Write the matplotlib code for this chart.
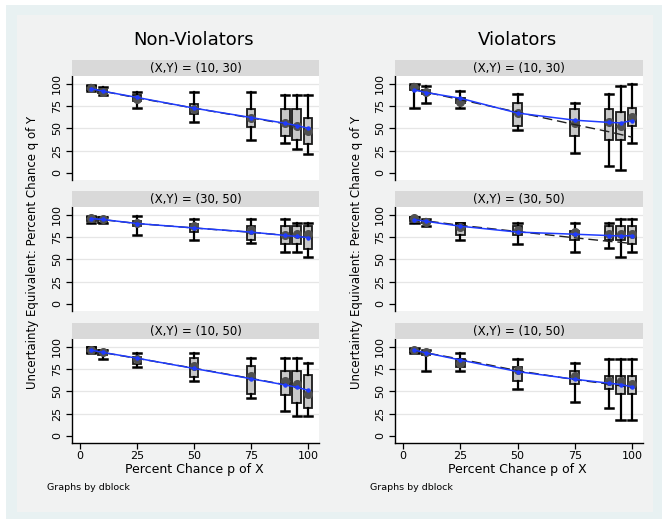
import matplotlib
matplotlib.use("Agg")
import matplotlib.pyplot as plt
from matplotlib.patches import Rectangle

# probability levels (percent chance p of X)
p_levels = [5, 10, 25, 50, 75, 90, 95, 100]

columns = ["Non-Violators", "Violators"]
conditions = ["(X,Y) = (10, 30)", "(X,Y) = (30, 50)", "(X,Y) = (10, 50)"]

# box summaries: lower whisker, q1, q3, upper whisker, mean marker
# plus the blue fitted curve and the dashed reference line
nv_10_30 = dict(
    lo=[92, 87.5, 72.5, 56.6, 37, 33, 27, 21.5],
    q1=[93, 89.5, 81, 66, 51.7, 41, 37, 32.5],
    q3=[97, 93, 87.5, 77.4, 71.7, 71.7, 71.7, 62],
    hi=[98, 96, 91, 91, 91, 87.5, 87.5, 87.5],
    mean=[95.5, 91, 83, 71.7, 62, 56, 52, 47],
    fit=[94.3, 91.5, 84.5, 72.5, 62, 55.5, 53, 50],
    ref=[94, 91.5, 84, 72.5, 61.5, 55, 52.5, 50],
)
v_10_30 = dict(
    lo=[73, 78, 73, 48, 22, 8, 3, 33],
    q1=[93, 88, 78, 52.5, 41.5, 37, 37, 52],
    q3=[97, 93, 84, 78, 72, 72, 68, 73],
    hi=[100, 97, 92, 88, 78, 88, 97, 100],
    mean=[96, 90.5, 79, 67, 56, 57, 52.5, 63],
    fit=[93, 90, 83.6, 67, 59, 56.5, 56, 58.5],
    ref=[93, 90.5, 82, 68, 54, 46, 43, 40],
)
nv_30_50 = dict(
    lo=[91, 91, 77, 72, 68, 58, 58, 52],
    q1=[93, 91, 87, 81, 71, 67, 67, 62],
    q3=[97, 97, 92.5, 89.5, 87, 87, 87, 87],
    hi=[98, 97, 98, 95.5, 95.5, 95.5, 91, 91],
    mean=[96, 95, 90.5, 87, 83, 77, 78, 78],
    fit=[95.5, 94.5, 90, 85, 80.4, 76.6, 75.5, 74.3],
    ref=[95.5, 94.3, 90, 85, 80.2, 76.8, 75.5, 74.5],
)
v_30_50 = dict(
    lo=[91, 87, 72, 67, 58, 63, 52, 58],
    q1=[93, 90.5, 77, 77, 72, 72, 72, 67],
    q3=[97, 93, 90.5, 87, 82, 87, 87, 87],
    hi=[97, 95.5, 91, 91, 91, 91, 95.5, 95.5],
    mean=[96, 92, 85.7, 83, 80, 78, 78, 78],
    fit=[94.3, 92.5, 87, 80.4, 78, 76.5, 76, 76.5],
    ref=[94.5, 93, 88, 81, 74, 70, 69, 67.5],
)
nv_10_50 = dict(
    lo=[93, 86, 76.6, 62, 42, 27.5, 22.6, 22.6],
    q1=[93, 91, 81, 66, 47, 46, 37, 31],
    q3=[99, 96, 88.7, 86.8, 78, 73, 73, 68],
    hi=[100, 96, 93, 93, 86.8, 86.8, 86.8, 82],
    mean=[96, 93.6, 86, 78, 67, 62, 58.5, 47],
    fit=[96, 93.5, 87, 75.5, 64, 57, 54.5, 51],
    ref=[96, 93.3, 86.8, 75.8, 64.3, 57.3, 54.6, 51.3],
)
v_10_50 = dict(
    lo=[93, 72.5, 72.5, 52, 37.7, 31, 17.7, 17.7],
    q1=[93.5, 91, 76.6, 61.5, 58, 52, 47, 47],
    q3=[97, 94, 86, 77, 73, 67, 67, 67],
    hi=[98, 96, 93, 86, 82, 86, 86, 86],
    mean=[96, 94.3, 82, 73.6, 67, 62, 62, 58.5],
    fit=[96, 93, 85, 72, 63.4, 59, 57.5, 55],
    ref=[95.5, 93, 86, 73, 63, 58, 56, 54],
)

panels = [
    [nv_10_30, v_10_30],
    [nv_30_50, v_30_50],
    [nv_10_50, v_10_50],
]

y_ticks = [0, 25, 50, 75, 100]
x_ticks = [0, 25, 50, 75, 100]

W, H = 666, 521
fig = plt.figure(figsize=(W / 100, H / 100), dpi=100)
fig.patch.set_facecolor("white")


def px_box(x0, y0, x1, y1):
    return [x0 / W, 1 - y1 / H, (x1 - x0) / W, (y1 - y0) / H]


# outer and inner graph regions
fig.patches.append(Rectangle((6 / W, 1 - 519 / H), 656 / W, 514 / H,
                             transform=fig.transFigure, facecolor="#e8f1f2",
                             edgecolor="none", zorder=-2))
fig.patches.append(Rectangle((17 / W, 1 - 512 / H), 636 / W, 497 / H,
                             transform=fig.transFigure, facecolor="#f1f2f2",
                             edgecolor="none", zorder=-1))

col_x = [(72, 319), (395, 643)]
row_y = [(76, 180), (207, 311), (339, 443)]
strip_h = 16

for c, (x0, x1) in enumerate(col_x):
    for r, (y0, y1) in enumerate(row_y):
        d = panels[r][c]
        ax = fig.add_axes(px_box(x0, y0, x1, y1))
        ax.set_facecolor("white")
        ax.set_xlim(-3.5, 104.8)
        ax.set_ylim(-8, 108.5)

        stats = []
        for i in range(len(p_levels)):
            stats.append(dict(whislo=d["lo"][i], q1=d["q1"][i], med=d["mean"][i],
                              q3=d["q3"][i], whishi=d["hi"][i], fliers=[]))
        ax.bxp(stats, positions=p_levels, widths=3.8, patch_artist=True,
               showfliers=False, manage_ticks=False,
               boxprops=dict(facecolor="#c8c8c8", edgecolor="#1a1a1a", linewidth=1.3),
               whiskerprops=dict(color="black", linewidth=1.6),
               capprops=dict(color="black", linewidth=1.8),
               medianprops=dict(color="#555555", linewidth=0.8),
               capwidths=3.6)
        ax.plot(p_levels, d["mean"], "o", color="#505050", markersize=5.5, zorder=4)
        ax.plot(p_levels, d["ref"], "--", color="#202020", linewidth=1.0,
                dashes=(7, 3.5), zorder=5)
        ax.plot(p_levels, d["fit"], "-o", color="#1f3bff", linewidth=1.1,
                markersize=2.2, zorder=6)

        for yt in y_ticks[1:]:
            ax.axhline(yt, color="#e6e6e6", linewidth=0.9, zorder=0)

        for s in ["top", "right"]:
            ax.spines[s].set_visible(False)
        ax.spines["left"].set_linewidth(1.0)
        ax.set_yticks(y_ticks)
        ax.set_yticklabels([str(t) for t in y_ticks], fontsize=8)
        ax.tick_params(axis="y", length=4, width=0.9, pad=3, labelrotation=90)
        for lab in ax.get_yticklabels():
            lab.set_verticalalignment("center")
        if r == len(row_y) - 1:
            ax.spines["bottom"].set_linewidth(1.0)
            ax.set_xticks(x_ticks)
            ax.set_xticklabels([str(t) for t in x_ticks], fontsize=8)
            ax.tick_params(axis="x", length=4, width=0.9, pad=2)
        else:
            ax.spines["bottom"].set_visible(False)
            ax.set_xticks([])

        # facet strip
        sax = fig.add_axes(px_box(x0, y0 - strip_h, x1, y0))
        sax.set_facecolor("#d9d9d9")
        sax.set_xticks([])
        sax.set_yticks([])
        for s in sax.spines.values():
            s.set_visible(False)
        sax.text(0.5, 0.45, conditions[r], ha="center", va="center",
                 fontsize=8.5, transform=sax.transAxes)

    mid = x0 + (50 + 3.5) / 108.3 * (x1 - x0)
    fig.text(mid / W, 1 - 40 / H, columns[c], ha="center", va="center", fontsize=13)
    fig.text(mid / W, 1 - 470 / H, "Percent Chance p of X", ha="center",
             va="center", fontsize=9)
    fig.text((x0 - 25) / W, 1 - 487 / H, "Graphs by dblock", ha="left",
             va="center", fontsize=6.8)
    fig.text((x0 - 39) / W, 1 - 252 / H,
             "Uncertainty Equivalent: Percent Chance q of Y", rotation=90,
             ha="center", va="center", fontsize=8.5)

fig.savefig("out.png", dpi=100)
